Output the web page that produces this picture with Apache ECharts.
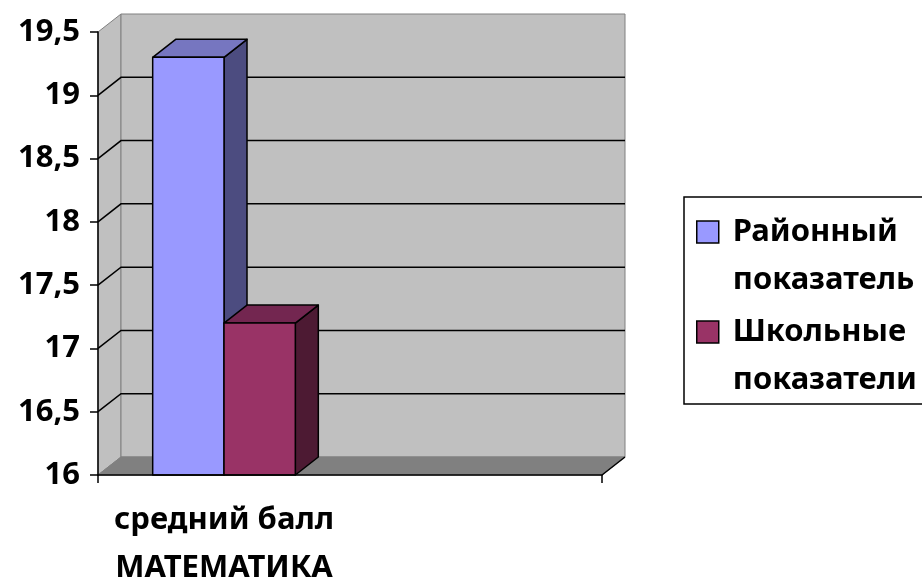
<!DOCTYPE html>
<html>
<head>
<meta charset="utf-8">
<script src="https://cdn.jsdelivr.net/npm/echarts@6/dist/echarts.min.js"></script>
<style>html,body{margin:0;background:#fff}#main{width:922px;height:581px}</style>
</head>
<body>
<div id="main"></div>
<script>
var categories = ['средний балл\nМАТЕМАТИКА', ''];
var seriesNames = ['Районный\nпоказатель', 'Школьные\nпоказатели'];
var districtValues = [19.3, '-'];
var schoolValues = [17.2, '-'];
var yMin = 16, yMax = 19.5, yStep = 0.5;
var gridValues = [16.5, 17, 17.5, 18, 18.5, 19];

var frontColors = ['#9999ff', '#993366'];
var topColors = ['#7676c0', '#732650'];
var sideColors = ['#4c4c80', '#4d1a33'];
var DX = 23, DY = -18;
var FONT = 'Noto Sans';
var FS = 31;

// back wall, side wall, floor and gridlines drawn in pseudo-3D
function renderWalls(params, api) {
    var cs = params.coordSys;
    var x0 = cs.x, x1 = cs.x + cs.width, y0 = cs.y, y1 = cs.y + cs.height;
    var children = [
        {type: 'polygon', shape: {points: [[x0, y0], [x0 + DX, y0 + DY], [x0 + DX, y1 + DY], [x0, y1]]},
            style: {fill: '#c0c0c0', stroke: '#808080', lineWidth: 1}},
        {type: 'rect', shape: {x: x0 + DX, y: y0 + DY, width: cs.width, height: cs.height},
            style: {fill: '#c0c0c0', stroke: '#808080', lineWidth: 1}},
        {type: 'polygon', shape: {points: [[x0, y1], [x1, y1], [x1 + DX, y1 + DY], [x0 + DX, y1 + DY]]},
            style: {fill: '#808080', stroke: '#808080', lineWidth: 1}}
    ];
    gridValues.forEach(function (v) {
        var y = api.coord([0, v])[1];
        children.push({type: 'polyline', shape: {points: [[x0, y], [x0 + DX, y + DY], [x1 + DX, y + DY]]},
            style: {stroke: '#000', lineWidth: 1.5, fill: null}});
    });
    children.push({type: 'line', shape: {x1: x1, y1: y1, x2: x1 + DX, y2: y1 + DY},
        style: {stroke: '#000', lineWidth: 1.5}});
    return {type: 'group', children: children};
}

function renderBar(params, api) {
    var v = api.value(1);
    if (isNaN(v)) return null;
    var s = params.seriesIndex - 1;
    var c = api.coord([api.value(0), v]);
    var base = api.coord([api.value(0), yMin]);
    var band = api.size([1, 0])[0];
    var w = band * 0.283;
    var x = c[0] - w + s * w;
    var yt = c[1], yb = base[1];
    var st = {stroke: '#000', lineWidth: 1.5, lineJoin: 'round'};
    return {
        type: 'group',
        children: [
            {type: 'polygon', shape: {points: [[x + w, yt], [x + w + DX, yt + DY], [x + w + DX, yb + DY], [x + w, yb]]},
                style: Object.assign({fill: sideColors[s]}, st)},
            {type: 'polygon', shape: {points: [[x, yt], [x + w, yt], [x + w + DX, yt + DY], [x + DX, yt + DY]]},
                style: Object.assign({fill: topColors[s]}, st)},
            {type: 'rect', shape: {x: x, y: yt, width: w, height: yb - yt},
                style: Object.assign({fill: frontColors[s]}, st)}
        ]
    };
}

var chart = echarts.init(document.getElementById('main'));
chart.setOption({
    animation: false,
    backgroundColor: '#fff',
    grid: {left: 98, right: 320, top: 32, bottom: 106, outerBoundsMode: 'none', containLabel: false},
    legend: {
        orient: 'vertical',
        left: 684,
        top: 197,
        data: seriesNames,
        icon: 'path://M0,0L22,0L22,22L0,22Z M0,70',
        itemWidth: 22,
        itemHeight: 70,
        itemGap: 4,
        padding: [11, 40, 0, 12],
        borderColor: '#000',
        borderWidth: 1.5,
        selectedMode: false,
        itemStyle: {borderColor: '#000', borderWidth: 1.5},
        textStyle: {fontFamily: FONT, fontSize: FS, fontWeight: 'bold', lineHeight: 48, color: '#000', padding: [0, 0, 0, 9]}
    },
    xAxis: {
        type: 'category',
        data: categories,
        z: 5,
        axisLine: {lineStyle: {color: '#000', width: 1.5}},
        axisTick: {show: true, length: 8, lineStyle: {color: '#000', width: 1.5}},
        axisLabel: {fontFamily: FONT, fontSize: FS, fontWeight: 'bold', color: '#000', lineHeight: 48, margin: 21},
        splitLine: {show: false}
    },
    yAxis: {
        type: 'value',
        min: yMin,
        max: yMax,
        interval: yStep,
        z: 5,
        axisLine: {show: true, lineStyle: {color: '#000', width: 1.5}},
        axisTick: {show: true, length: 8, lineStyle: {color: '#000', width: 1.5}},
        axisLabel: {
            fontFamily: FONT, fontSize: FS, fontWeight: 'bold', color: '#000', margin: 18,
            formatter: function (v) { return String(v).replace('.', ','); }
        },
        splitLine: {show: false}
    },
    series: [
        {type: 'custom', name: 'walls', renderItem: renderWalls, data: [[0, yMin]], silent: true},
        {type: 'custom', name: seriesNames[0], renderItem: renderBar,
            itemStyle: {color: frontColors[0]},
            data: districtValues.map(function (v, i) { return [i, v]; })},
        {type: 'custom', name: seriesNames[1], renderItem: renderBar,
            itemStyle: {color: frontColors[1]},
            data: schoolValues.map(function (v, i) { return [i, v]; })}
    ]
});
</script>
</body>
</html>
